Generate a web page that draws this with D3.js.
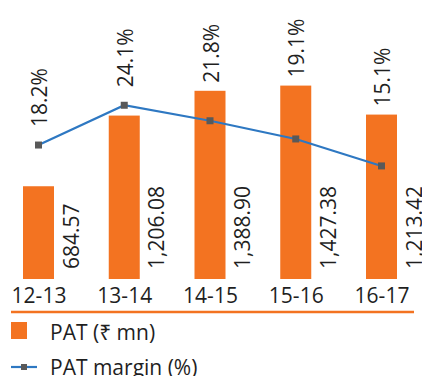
<!DOCTYPE html>
<html>
<head>
<meta charset="utf-8">
<script src="https://d3js.org/d3.v7.min.js"></script>
<style>
  body { margin: 0; background: #fff; }
  svg text { font-family: "Open Sans", "Noto Sans", sans-serif; fill: #1f1f1f; }
</style>
</head>
<body>
<div id="chart"></div>
<script>
// data
var years = ["12-13", "13-14", "14-15", "15-16", "16-17"];
var pat = [684.57, 1206.08, 1388.90, 1427.38, 1213.42];
var margin = [18.2, 24.1, 21.8, 19.1, 15.1];
var patLabels = ["684.57", "1,206.08", "1,388.90", "1,427.38", "1,213.42"];
var legendNames = ["PAT (\u20B9 mn)", "PAT margin (%)"];

var w = 422, h = 376;
var orange = "#f37321", blue = "#2e78c2", grey = "#595959";
var barW = 31;

var svg = d3.select("#chart").append("svg")
    .attr("width", w)
    .attr("height", h);

// scales
var x = d3.scalePoint().domain(years).range([38.5, 381.5]);
var yBar = d3.scaleLinear().domain([0, 1400]).range([279, 89.3]);
var yPct = d3.scaleLinear().domain([0, 30]).range([267.7, 65.5]);

var rows = years.map(function(d, i) {
    return {year: d, pat: pat[i], margin: margin[i], label: patLabels[i]};
});

// bars
svg.selectAll("rect.bar")
    .data(rows)
    .enter()
    .append("rect")
    .attr("class", "bar")
    .attr("x", function(d) { return x(d.year) - barW / 2; })
    .attr("y", function(d) { return yBar(d.pat); })
    .attr("width", barW)
    .attr("height", function(d) { return yBar(0) - yBar(d.pat); })
    .attr("fill", orange);

// bar value labels, rotated, right of each bar
svg.selectAll("text.val")
    .data(rows)
    .enter()
    .append("text")
    .attr("class", "val")
    .attr("transform", function(d) { return "translate(" + (x(d.year) + 40) + ",269) rotate(-90)"; })
    .attr("text-anchor", "start")
    .style("font-size", "21px")
    .text(function(d) { return d.label; });

// margin line
var line = d3.line()
    .x(function(d) { return x(d.year); })
    .y(function(d) { return yPct(d.margin); });

svg.append("path")
    .datum(rows)
    .attr("fill", "none")
    .attr("stroke", blue)
    .attr("stroke-width", 2.2)
    .attr("d", line);

svg.selectAll("rect.mk")
    .data(rows)
    .enter()
    .append("rect")
    .attr("class", "mk")
    .attr("x", function(d) { return x(d.year) - 3.5; })
    .attr("y", function(d) { return yPct(d.margin) - 3.5; })
    .attr("width", 7)
    .attr("height", 7)
    .attr("fill", grey);

// percent labels sit above whichever is higher, marker or bar
svg.selectAll("text.pct")
    .data(rows)
    .enter()
    .append("text")
    .attr("class", "pct")
    .attr("transform", function(d) {
        var my = yPct(d.margin), by = yBar(d.pat);
        var ty = my < by ? my - 18 : by - 8;
        return "translate(" + (x(d.year) + 8.5) + "," + ty + ") rotate(-90)";
    })
    .attr("text-anchor", "start")
    .style("font-size", "21px")
    .text(function(d) { return d.margin.toFixed(1) + "%"; });

// category axis
var ax = svg.append("g")
    .attr("transform", "translate(0,279)")
    .call(d3.axisBottom(x).tickSize(0).tickPadding(9));
ax.select(".domain").remove();
ax.selectAll("text")
    .style("font-size", "21px")
    .style("font-family", "'Open Sans', sans-serif")
    .attr("fill", "#1f1f1f");

// orange rule under the axis labels
svg.append("line")
    .attr("x1", 11).attr("x2", 414)
    .attr("y1", 312).attr("y2", 312)
    .attr("stroke", orange)
    .attr("stroke-width", 2.7);

// legend
svg.append("rect")
    .attr("x", 11).attr("y", 322)
    .attr("width", 16).attr("height", 17)
    .attr("fill", orange);
svg.append("text")
    .attr("x", 50).attr("y", 340)
    .style("font-size", "21px")
    .text(legendNames[0]);

svg.append("line")
    .attr("x1", 11).attr("x2", 37)
    .attr("y1", 367).attr("y2", 367)
    .attr("stroke", blue)
    .attr("stroke-width", 2.2);
svg.append("rect")
    .attr("x", 21).attr("y", 364)
    .attr("width", 6).attr("height", 6)
    .attr("fill", grey);
svg.append("text")
    .attr("x", 50).attr("y", 375)
    .style("font-size", "21px")
    .text(legendNames[1]);
</script>
</body>
</html>
